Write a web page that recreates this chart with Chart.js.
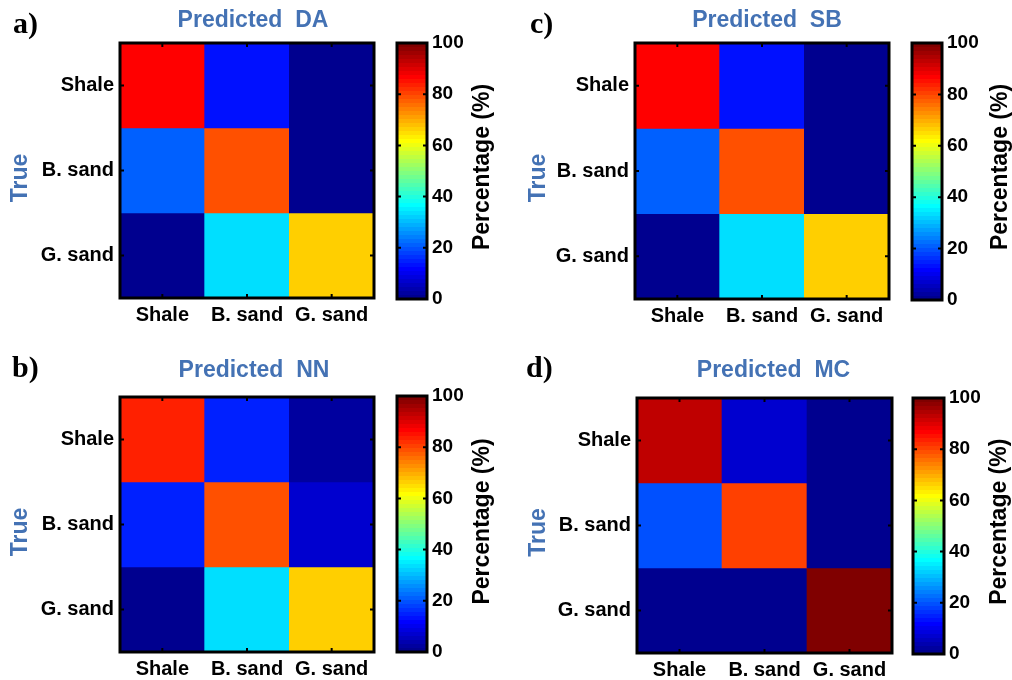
<!DOCTYPE html>
<html>
<head>
<meta charset="utf-8">
<title>Confusion matrices</title>
<script src="https://cdn.jsdelivr.net/npm/chart.js@4.4.1/dist/chart.umd.min.js"></script>
<style>
    html, body { margin: 0; padding: 0; background: #fff; overflow: hidden; }
    #page { position: relative; width: 1012px; height: 680px; }
    #page canvas { position: absolute; }
</style>
</head>
<body>
<div id="page"></div>
<script>
// --- Data ---

const predictedLabels = ['Shale', 'B. sand', 'G. sand'];
const trueLabels = ['Shale', 'B. sand', 'G. sand'];
const colorbarTicks = [0, 20, 40, 60, 80, 100];

// rows = true class, columns = predicted class (percent)
const daValues = [
    [87, 13, 0],
    [21, 79, 0],
    [0, 33, 67]
];
const sbValues = [
    [87, 13, 0],
    [21, 79, 0],
    [0, 33, 67]
];
const nnValues = [
    [84, 15, 2],
    [15, 79, 7],
    [0, 33, 67]
];
const mcValues = [
    [93, 7, 0],
    [20, 80, 0],
    [0, 0, 100]
];

// --- Layout ---

const FONT = "'Liberation Sans', Arial, sans-serif";
const SERIF = "'Liberation Serif', 'Times New Roman', serif";
const TITLE_BLUE = '#4472b4';

const panels = [
    { letter: 'a)', method: 'DA', values: daValues,
      plot: { l: 120, t: 43, r: 374, b: 298 }, bar: { l: 397, t: 43, r: 427, b: 299 },
      titleOff: [6, -16], letterOff: [-107, -10], trueOff: [-99, 7.5], pctOff: [56, -4] },
    { letter: 'c)', method: 'SB', values: sbValues,
      plot: { l: 635, t: 43, r: 889, b: 299 }, bar: { l: 912, t: 43, r: 942, b: 300 },
      titleOff: [5, -16], letterOff: [-105, -10], trueOff: [-96.5, 7], pctOff: [59, -4.5] },
    { letter: 'b)', method: 'NN', values: nnValues,
      plot: { l: 120, t: 397, r: 374, b: 652 }, bar: { l: 397, t: 396, r: 427, b: 652 },
      titleOff: [7, -20], letterOff: [-108, -20], trueOff: [-99, 7.5], pctOff: [55.5, -2.5] },
    { letter: 'd)', method: 'MC', values: mcValues,
      plot: { l: 637, t: 398, r: 892, b: 653 }, bar: { l: 913, t: 398, r: 944, b: 654 },
      titleOff: [9, -21], letterOff: [-111, -21], trueOff: [-98.5, 7], pctOff: [56, -4.3] }
];

// MATLAB-style jet colormap with 64 levels
function jet64(value) {
    const i = Math.min(64, Math.floor(value / 100 * 64) + 1);
    const r = i <= 24 ? 0 : i <= 40 ? (i - 24) / 16 : i <= 56 ? 1 : 1 - (i - 56) / 16;
    const g = i <= 8 ? 0 : i <= 24 ? (i - 8) / 16 : i <= 40 ? 1 : i <= 56 ? 1 - (i - 40) / 16 : 0;
    const b = i <= 8 ? 0.5 + i / 16 : i <= 24 ? 1 : i <= 40 ? 1 - (i - 24) / 16 : 0;
    return `rgb(${Math.round(r * 255)},${Math.round(g * 255)},${Math.round(b * 255)})`;
}

function makeCanvas(left, top, w, h) {
    const c = document.createElement('canvas');
    c.width = w;
    c.height = h;
    c.style.left = left + 'px';
    c.style.top = top + 'px';
    c.style.width = w + 'px';
    c.style.height = h + 'px';
    document.getElementById('page').appendChild(c);
    return c.getContext('2d');
}

// Box, inward ticks and the panel texts around the matrix
const matrixDecor = {
    id: 'matrixDecor',
    afterDraw(chart, args, opts) {
        const { ctx, chartArea: a, scales: { x, y } } = chart;
        ctx.save();
        ctx.strokeStyle = '#000';
        ctx.lineWidth = 2;
        ctx.beginPath();
        x.ticks.forEach((t, i) => {
            const px = x.getPixelForTick(i);
            ctx.moveTo(px, a.bottom); ctx.lineTo(px, a.bottom - 4);
            ctx.moveTo(px, a.top); ctx.lineTo(px, a.top + 4);
        });
        y.ticks.forEach((t, i) => {
            const py = y.getPixelForTick(i);
            ctx.moveTo(a.left, py); ctx.lineTo(a.left + 4, py);
            ctx.moveTo(a.right, py); ctx.lineTo(a.right - 4, py);
        });
        ctx.stroke();
        ctx.lineWidth = 3;
        ctx.strokeRect(a.left, a.top, a.right - a.left, a.bottom - a.top);

        const cx = (a.left + a.right) / 2;
        const cy = (a.top + a.bottom) / 2;

        ctx.fillStyle = TITLE_BLUE;
        ctx.font = 'bold 23px ' + FONT;
        ctx.textAlign = 'center';
        ctx.textBaseline = 'alphabetic';
        ctx.fillText(opts.title, cx + opts.titleOff[0], a.top + opts.titleOff[1]);

        ctx.save();
        ctx.translate(a.left + opts.trueOff[0], cy + opts.trueOff[1]);
        ctx.rotate(-Math.PI / 2);
        ctx.textBaseline = 'middle';
        ctx.fillText('True', 0, 0);
        ctx.restore();

        ctx.fillStyle = '#000';
        ctx.font = 'bold 30px ' + SERIF;
        ctx.textAlign = 'left';
        ctx.textBaseline = 'alphabetic';
        ctx.fillText(opts.letter, a.left + opts.letterOff[0], a.top + opts.letterOff[1]);
        ctx.restore();
    }
};

// Frame, inward ticks and rotated label of the colorbar
const colorbarDecor = {
    id: 'colorbarDecor',
    afterDraw(chart, args, opts) {
        const { ctx, chartArea: a, scales: { y } } = chart;
        ctx.save();
        ctx.strokeStyle = '#000';
        ctx.lineWidth = 2;
        ctx.beginPath();
        y.ticks.forEach(t => {
            const py = y.getPixelForValue(t.value);
            ctx.moveTo(a.left, py); ctx.lineTo(a.left + 4, py);
            ctx.moveTo(a.right, py); ctx.lineTo(a.right - 4, py);
        });
        ctx.stroke();
        ctx.lineWidth = 3;
        ctx.strokeRect(a.left, a.top, a.right - a.left, a.bottom - a.top);

        ctx.translate(a.right + opts.pctOff[0], (a.top + a.bottom) / 2 + opts.pctOff[1]);
        ctx.rotate(-Math.PI / 2);
        ctx.fillStyle = '#000';
        ctx.font = 'bold 23px ' + FONT;
        ctx.textAlign = 'center';
        ctx.textBaseline = 'middle';
        ctx.fillText('Percentage (%)', 0, 0);
        ctx.restore();
    }
};

function jetGradient(context) {
    const chart = context.chart;
    if (!chart.chartArea) return null;
    const y = chart.scales.y;
    const y0 = y.getPixelForValue(colorbarTicks[0]);
    const y1 = y.getPixelForValue(colorbarTicks[colorbarTicks.length - 1]);
    const grad = chart.ctx.createLinearGradient(0, y0, 0, y1);
    for (let k = 0; k < 64; k++) {
        const col = jet64((k + 0.5) / 64 * 100);
        grad.addColorStop(k / 64, col);
        grad.addColorStop((k + 1) / 64, col);
    }
    return grad;
}

function drawMatrix(p) {
    const padTop = 45, axisW = 120, axisH = 40, padRight = 6;
    const pw = p.plot.r - p.plot.l;
    const ph = p.plot.b - p.plot.t;
    const ctx = makeCanvas(p.plot.l - axisW, p.plot.t - padTop, pw + axisW + padRight, ph + padTop + axisH);

    new Chart(ctx, {
        type: 'bar',
        data: {
            labels: predictedLabels,
            datasets: trueLabels.map((name, r) => ({
                label: name,
                data: predictedLabels.map(() => 1),
                backgroundColor: p.values[r].map(jet64),
                borderWidth: 0,
                barPercentage: 1,
                categoryPercentage: 1
            }))
        },
        options: {
            responsive: false,
            animation: false,
            layout: { padding: { top: padTop, right: padRight, left: 0, bottom: 0 } },
            plugins: {
                legend: { display: false },
                tooltip: { enabled: false },
                matrixDecor: {
                    title: 'Predicted  ' + p.method,
                    letter: p.letter,
                    titleOff: p.titleOff,
                    letterOff: p.letterOff,
                    trueOff: p.trueOff
                }
            },
            scales: {
                x: {
                    stacked: true,
                    grid: { display: false, drawTicks: false },
                    border: { display: false },
                    afterFit: s => { s.height = axisH; },
                    ticks: { color: '#000', padding: 5, font: { family: FONT, size: 20, weight: 'bold' } }
                },
                y: {
                    type: 'linear',
                    stacked: true,
                    reverse: true,
                    min: 0,
                    max: trueLabels.length,
                    grid: { display: false, drawTicks: false },
                    border: { display: false },
                    afterFit: s => { s.width = axisW; },
                    afterBuildTicks: s => { s.ticks = trueLabels.map((n, i) => ({ value: i + 0.5 })); },
                    ticks: {
                        color: '#000',
                        padding: 6,
                        font: { family: FONT, size: 20, weight: 'bold' },
                        callback: v => trueLabels[Math.floor(v)]
                    }
                }
            }
        },
        plugins: [matrixDecor]
    });
}

function drawColorbar(p) {
    const padV = 18, padL = 4, axisW = 80;
    const bw = p.bar.r - p.bar.l;
    const bh = p.bar.b - p.bar.t;
    const ctx = makeCanvas(p.bar.l - padL, p.bar.t - padV, bw + padL + axisW, bh + 2 * padV);

    new Chart(ctx, {
        type: 'bar',
        data: {
            labels: [''],
            datasets: [{
                data: [colorbarTicks[colorbarTicks.length - 1]],
                backgroundColor: jetGradient,
                borderWidth: 0,
                barPercentage: 1,
                categoryPercentage: 1
            }]
        },
        options: {
            responsive: false,
            animation: false,
            layout: { padding: { top: padV, bottom: padV, left: padL, right: 0 } },
            plugins: {
                legend: { display: false },
                tooltip: { enabled: false },
                colorbarDecor: { pctOff: p.pctOff }
            },
            scales: {
                x: { display: false },
                y: {
                    position: 'right',
                    min: colorbarTicks[0],
                    max: colorbarTicks[colorbarTicks.length - 1],
                    grid: { display: false, drawTicks: false },
                    border: { display: false },
                    afterFit: s => { s.width = axisW; },
                    afterBuildTicks: s => { s.ticks = colorbarTicks.map(v => ({ value: v })); },
                    ticks: { color: '#000', padding: 5, font: { family: FONT, size: 19, weight: 'bold' } }
                }
            }
        },
        plugins: [colorbarDecor]
    });
}

panels.forEach(p => {
    drawMatrix(p);
    drawColorbar(p);
});
</script>
</body>
</html>
